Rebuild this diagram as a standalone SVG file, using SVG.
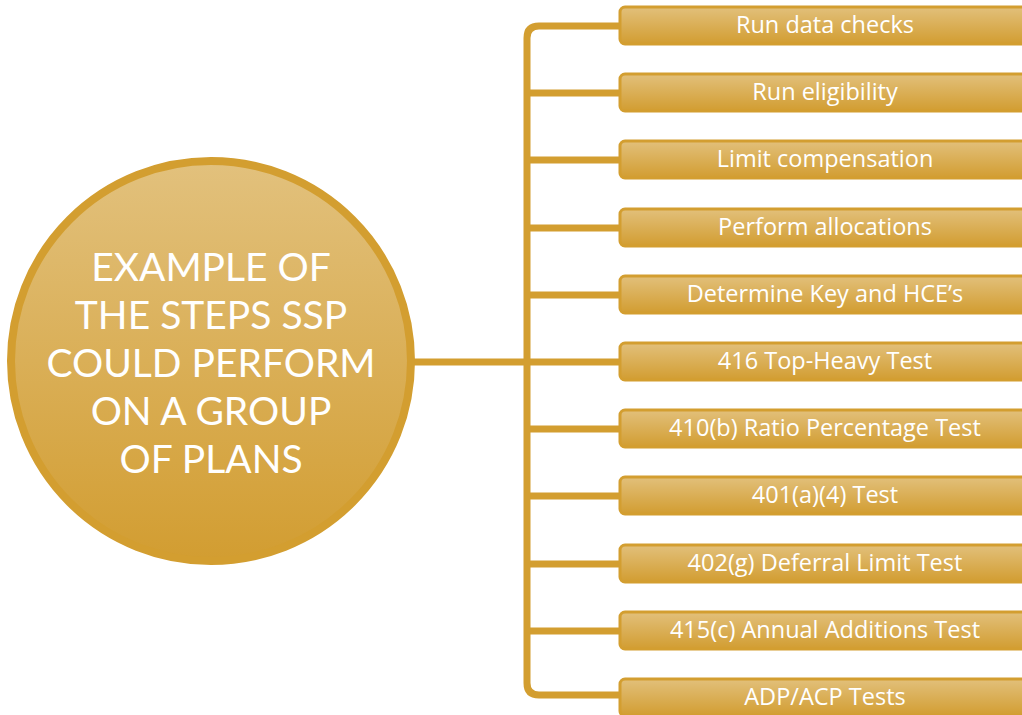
<svg xmlns="http://www.w3.org/2000/svg" width="1022" height="715" viewBox="0 0 1022 715">
<defs>
<linearGradient id="cg" x1="0" y1="0" x2="0" y2="1"><stop offset="0" stop-color="#E2C17D"/><stop offset="1" stop-color="#D29D31"/></linearGradient>
<linearGradient id="bg" x1="0" y1="0" x2="0" y2="1"><stop offset="0" stop-color="#E2C07B"/><stop offset="1" stop-color="#D29D31"/></linearGradient>
<style>
.box{fill:url(#bg);stroke:#D39E30;stroke-width:3}
.bt{font-family:"Open Sans","Liberation Sans",sans-serif;font-size:23.5px;fill:#fff;text-anchor:middle}
.ct{font-family:Lato,"Liberation Sans",sans-serif;font-size:39px;fill:#fff;text-anchor:middle}
.ln{fill:none;stroke:#D39E30;stroke-width:7}
</style>
</defs>
<g id="connectors">
<path class="ln" d="M412 362 H527"/>
<path class="ln" d="M620 26 H539 Q527 26 527 38 V683 Q527 695 539 695 H620"/>
<path class="ln" d="M527 93 H620 M527 160 H620 M527 228 H620 M527 295 H620 M527 362 H620 M527 429 H620 M527 496 H620 M527 564 H620 M527 631 H620"/>
</g>
<g id="center">
<circle cx="211" cy="361" r="200" fill="url(#cg)" stroke="#D39E30" stroke-width="8"/>
<text class="ct" x="211" y="281">EXAMPLE OF</text>
<text class="ct" x="211" y="329">THE STEPS SSP</text>
<text class="ct" x="211" y="377">COULD PERFORM</text>
<text class="ct" x="211" y="425">ON A GROUP</text>
<text class="ct" x="211" y="473">OF PLANS</text>
</g>
<g id="n1"><rect class="box" x="620" y="7" width="412" height="37" rx="5"/><text class="bt" x="825" y="33">Run data checks</text></g>
<g id="n2"><rect class="box" x="620" y="74" width="412" height="37" rx="5"/><text class="bt" x="825" y="100">Run eligibility</text></g>
<g id="n3"><rect class="box" x="620" y="141" width="412" height="37" rx="5"/><text class="bt" x="825" y="167">Limit compensation</text></g>
<g id="n4"><rect class="box" x="620" y="209" width="412" height="37" rx="5"/><text class="bt" x="825" y="235">Perform allocations</text></g>
<g id="n5"><rect class="box" x="620" y="276" width="412" height="37" rx="5"/><text class="bt" x="825" y="302">Determine Key and HCE’s</text></g>
<g id="n6"><rect class="box" x="620" y="343" width="412" height="37" rx="5"/><text class="bt" x="825" y="369">416 Top-Heavy Test</text></g>
<g id="n7"><rect class="box" x="620" y="410" width="412" height="37" rx="5"/><text class="bt" x="825" y="436">410(b) Ratio Percentage Test</text></g>
<g id="n8"><rect class="box" x="620" y="477" width="412" height="37" rx="5"/><text class="bt" x="825" y="503">401(a)(4) Test</text></g>
<g id="n9"><rect class="box" x="620" y="545" width="412" height="37" rx="5"/><text class="bt" x="825" y="571">402(g) Deferral Limit Test</text></g>
<g id="n10"><rect class="box" x="620" y="612" width="412" height="37" rx="5"/><text class="bt" x="825" y="638">415(c) Annual Additions Test</text></g>
<g id="n11"><rect class="box" x="620" y="679" width="412" height="37" rx="5"/><text class="bt" x="825" y="705">ADP/ACP Tests</text></g>
</svg>
